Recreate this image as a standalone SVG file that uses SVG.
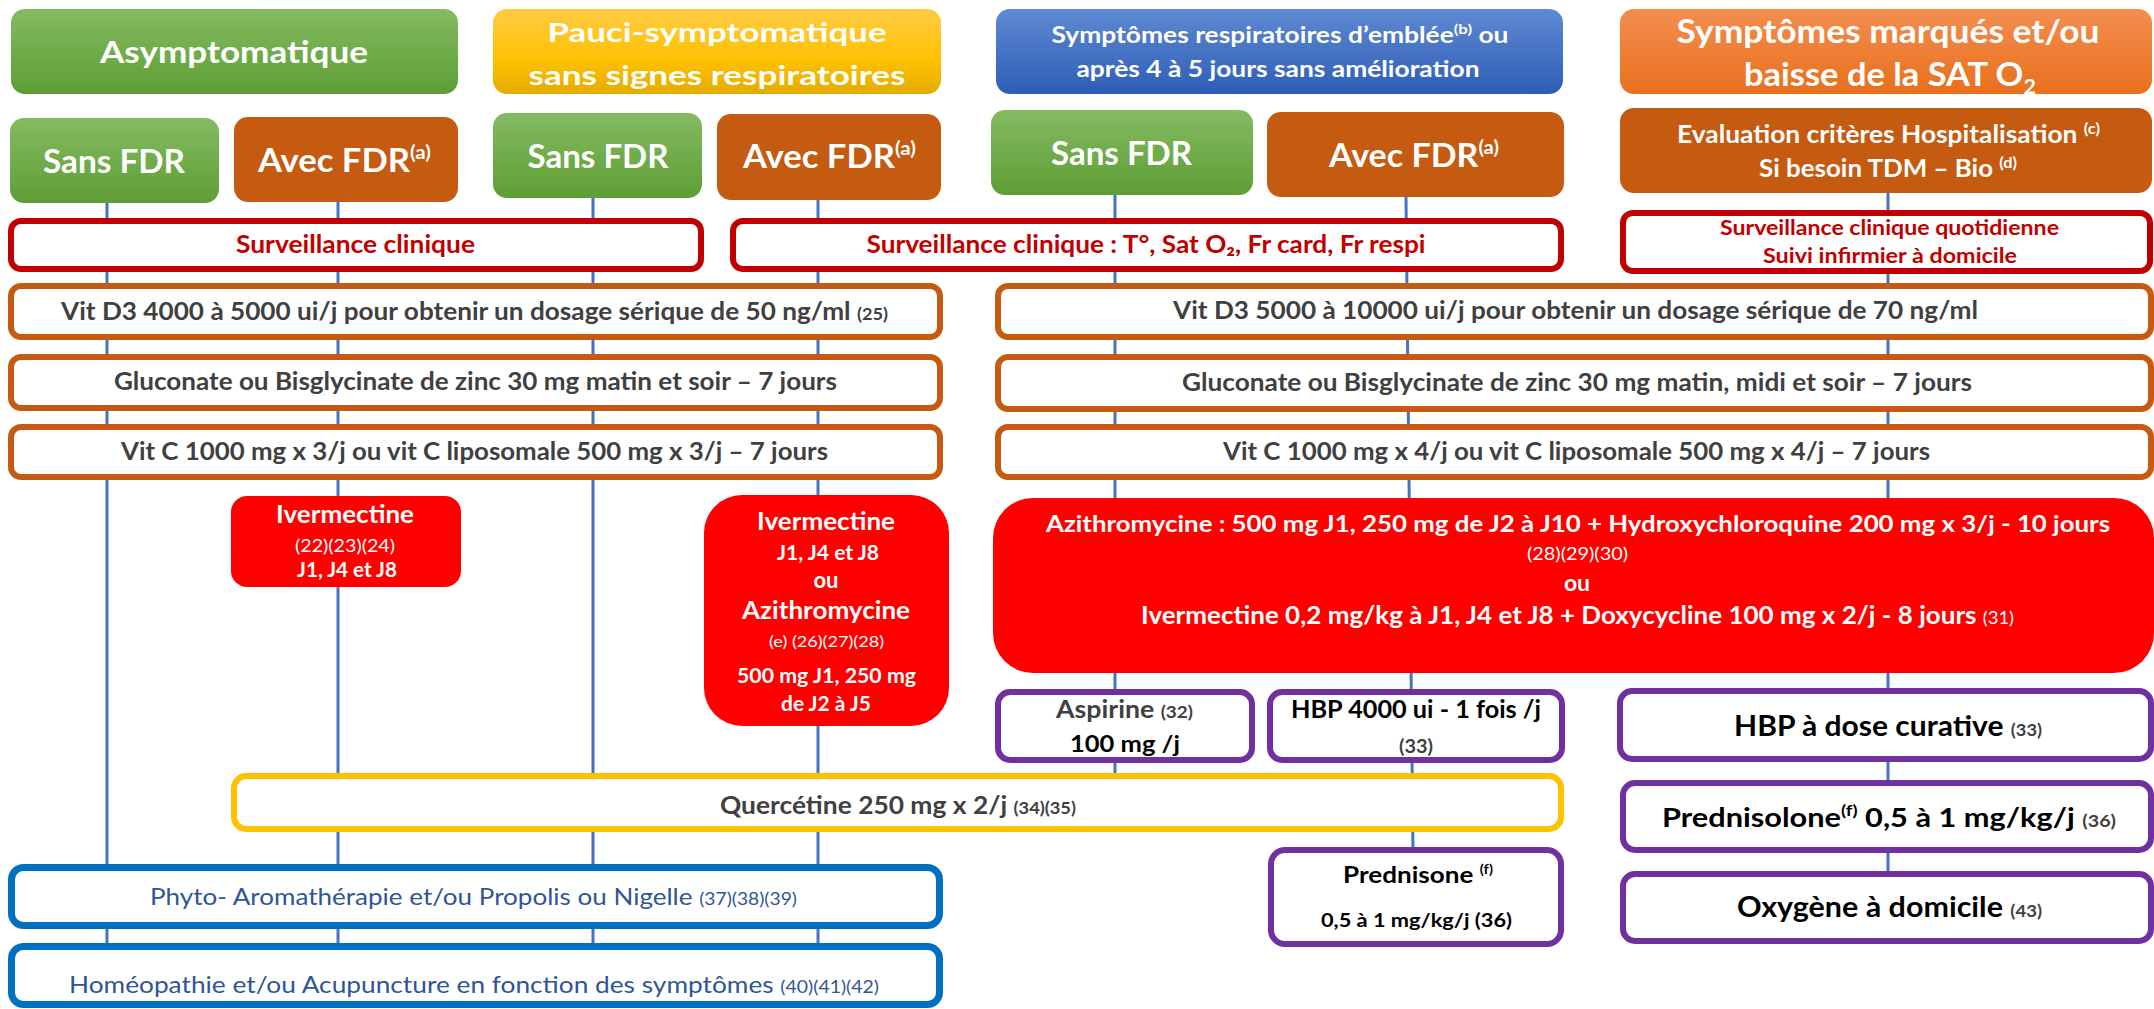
<svg xmlns="http://www.w3.org/2000/svg" width="2154" height="1009" viewBox="0 0 2154 1009">
<defs>
<linearGradient id="gGreen" x1="0" y1="0" x2="0" y2="1"><stop offset="0" stop-color="#84BB62"/><stop offset="1" stop-color="#5E9E35"/></linearGradient>
<linearGradient id="gGold" x1="0" y1="0" x2="0" y2="1"><stop offset="0" stop-color="#FFCB45"/><stop offset="0.6" stop-color="#FFC000"/><stop offset="1" stop-color="#E2AC00"/></linearGradient>
<linearGradient id="gBlue" x1="0" y1="0" x2="0" y2="1"><stop offset="0" stop-color="#5F89D2"/><stop offset="1" stop-color="#2E5DB6"/></linearGradient>
<linearGradient id="gOrange" x1="0" y1="0" x2="0" y2="1"><stop offset="0" stop-color="#F38E50"/><stop offset="1" stop-color="#E8701C"/></linearGradient>
<style>
text{font-family:Lato,"Liberation Sans",sans-serif;text-anchor:middle}
.w{fill:#FFFFFF;font-weight:700}
.wr{fill:#FFFFFF;font-weight:400}
.g{fill:#404040;font-weight:700}
.k{fill:#000000;font-weight:700}
.r{fill:#C00000;font-weight:700}
.b{fill:#2F5597;font-weight:400}
.ref{font-size:17px}
.conn{stroke:#4472C4;stroke-width:3;fill:none}
.fdr{fill:#C55A11}
.svb{fill:#FFFFFF;stroke:#C00000;stroke-width:6}
.orb{fill:#FFFFFF;stroke:#C55A11;stroke-width:6}
.pur{fill:#FFFFFF;stroke:#7030A0;stroke-width:6}
.gol{fill:#FFFFFF;stroke:#FFC000;stroke-width:6}
.blu{fill:#FFFFFF;stroke:#0070C0;stroke-width:7}
.red{fill:#FF0000}
</style>
</defs>
<rect width="2154" height="1009" fill="#FFFFFF"/>
<g id="connectors">
<line class="conn" x1="107" y1="203" x2="107" y2="946"/>
<line class="conn" x1="338" y1="202" x2="338" y2="946"/>
<line class="conn" x1="593" y1="198" x2="593" y2="946"/>
<line class="conn" x1="818" y1="200" x2="818" y2="946"/>
<line class="conn" x1="1115" y1="195" x2="1115" y2="776"/>
<line class="conn" x1="1406" y1="197" x2="1413" y2="850"/>
<line class="conn" x1="1888" y1="193" x2="1888" y2="874"/>
</g>
<g id="h-asympto">
<rect x="11" y="9" width="447" height="85" rx="14" fill="url(#gGreen)"/>
<text class="w" x="234" y="63" font-size="31" textLength="268" lengthAdjust="spacingAndGlyphs">Asymptomatique</text>
</g>
<g id="h-pauci">
<rect x="493" y="9" width="448" height="85" rx="14" fill="url(#gGold)"/>
<text class="w" x="717" y="42" font-size="27" textLength="339" lengthAdjust="spacingAndGlyphs">Pauci-symptomatique</text>
<text class="w" x="717" y="85" font-size="27" textLength="377" lengthAdjust="spacingAndGlyphs">sans signes respiratoires</text>
</g>
<g id="h-respi">
<rect x="996" y="9" width="567" height="85" rx="14" fill="url(#gBlue)"/>
<text class="w" x="1280" y="43" font-size="22" textLength="457" lengthAdjust="spacingAndGlyphs">Symptômes respiratoires d’emblée<tspan dy="-9" font-size="14">(b)</tspan><tspan dy="9"> ou</tspan></text>
<text class="w" x="1278" y="77" font-size="22" textLength="403" lengthAdjust="spacingAndGlyphs">après 4 à 5 jours sans amélioration</text>
</g>
<g id="h-marques">
<rect x="1620" y="9" width="532" height="85" rx="14" fill="url(#gOrange)"/>
<text class="w" x="1888" y="43" font-size="32" textLength="423" lengthAdjust="spacingAndGlyphs">Symptômes marqués et/ou</text>
<text class="w" x="1890" y="86" font-size="32" textLength="292" lengthAdjust="spacingAndGlyphs">baisse de la SAT O<tspan dy="8" font-size="20">2</tspan></text>
</g>
<g id="sans1">
<rect x="10" y="118" width="209" height="85" rx="14" fill="url(#gGreen)"/>
<text class="w" x="114" y="173" font-size="32" textLength="142" lengthAdjust="spacingAndGlyphs">Sans FDR</text>
</g>
<g id="avec1">
<rect class="fdr" x="234" y="117" width="224" height="85" rx="14"/>
<text class="w" x="344.5" y="172" font-size="32" textLength="173" lengthAdjust="spacingAndGlyphs">Avec FDR<tspan dy="-13" font-size="19">(a)</tspan></text>
</g>
<g id="sans2">
<rect x="493" y="113" width="209" height="85" rx="14" fill="url(#gGreen)"/>
<text class="w" x="598" y="168" font-size="32" textLength="141" lengthAdjust="spacingAndGlyphs">Sans FDR</text>
</g>
<g id="avec2">
<rect class="fdr" x="717" y="114" width="224" height="86" rx="14"/>
<text class="w" x="829.5" y="168" font-size="32" textLength="173" lengthAdjust="spacingAndGlyphs">Avec FDR<tspan dy="-13" font-size="19">(a)</tspan></text>
</g>
<g id="sans3">
<rect x="991" y="110" width="262" height="85" rx="14" fill="url(#gGreen)"/>
<text class="w" x="1121.5" y="165" font-size="32" textLength="141" lengthAdjust="spacingAndGlyphs">Sans FDR</text>
</g>
<g id="avec3">
<rect class="fdr" x="1267" y="112" width="297" height="85" rx="14"/>
<text class="w" x="1414" y="167" font-size="32" textLength="170" lengthAdjust="spacingAndGlyphs">Avec FDR<tspan dy="-13" font-size="19">(a)</tspan></text>
</g>
<g id="evaluation">
<rect class="fdr" x="1620" y="108" width="532" height="85" rx="14"/>
<text class="w" x="1888.5" y="143" font-size="24" textLength="423" lengthAdjust="spacingAndGlyphs">Evaluation critères Hospitalisation <tspan dy="-9" font-size="15">(c)</tspan></text>
<text class="w" x="1888" y="177" font-size="24" textLength="258" lengthAdjust="spacingAndGlyphs">Si besoin TDM – Bio <tspan dy="-9" font-size="15">(d)</tspan></text>
</g>
<g id="surv1">
<rect class="svb" x="11" y="221" width="690" height="48" rx="10"/>
<text class="r" x="355.5" y="253" font-size="24" textLength="239" lengthAdjust="spacingAndGlyphs">Surveillance clinique</text>
</g>
<g id="surv2">
<rect class="svb" x="733" y="221" width="828" height="48" rx="10"/>
<text class="r" x="1146" y="253" font-size="24" textLength="559" lengthAdjust="spacingAndGlyphs">Surveillance clinique : T°, Sat O₂, Fr card, Fr respi</text>
</g>
<g id="surv3">
<rect class="svb" x="1623" y="213" width="527" height="58" rx="10"/>
<text class="r" x="1889.5" y="235" font-size="20" textLength="339" lengthAdjust="spacingAndGlyphs">Surveillance clinique quotidienne</text>
<text class="r" x="1890" y="263" font-size="20" textLength="254" lengthAdjust="spacingAndGlyphs">Suivi infirmier à domicile</text>
</g>
<g id="vitd3-l">
<rect class="orb" x="11" y="286" width="929" height="51" rx="10"/>
<text class="g" x="474.5" y="320" font-size="24.5" textLength="827" lengthAdjust="spacingAndGlyphs">Vit D3 4000 à 5000 ui/j pour obtenir un dosage sérique de 50 ng/ml <tspan class="ref">(25)</tspan></text>
</g>
<g id="zinc-l">
<rect class="orb" x="11" y="357" width="929" height="51" rx="10"/>
<text class="g" x="475.5" y="390" font-size="24.5" textLength="723" lengthAdjust="spacingAndGlyphs">Gluconate ou Bisglycinate de zinc 30 mg matin et soir – 7 jours</text>
</g>
<g id="vitc-l">
<rect class="orb" x="11" y="427" width="929" height="50" rx="10"/>
<text class="g" x="474.5" y="460" font-size="24.5" textLength="707" lengthAdjust="spacingAndGlyphs">Vit C 1000 mg x 3/j ou vit C liposomale 500 mg x 3/j – 7 jours</text>
</g>
<g id="vitd3-r">
<rect class="orb" x="998" y="286" width="1153" height="51" rx="10"/>
<text class="g" x="1575.5" y="319" font-size="24.5" textLength="805" lengthAdjust="spacingAndGlyphs">Vit D3 5000 à 10000 ui/j pour obtenir un dosage sérique de 70 ng/ml</text>
</g>
<g id="zinc-r">
<rect class="orb" x="998" y="357" width="1153" height="52" rx="10"/>
<text class="g" x="1577" y="391" font-size="24.5" textLength="790" lengthAdjust="spacingAndGlyphs">Gluconate ou Bisglycinate de zinc 30 mg matin, midi et soir – 7 jours</text>
</g>
<g id="vitc-r">
<rect class="orb" x="998" y="427" width="1153" height="50" rx="10"/>
<text class="g" x="1576.5" y="460" font-size="24.5" textLength="707" lengthAdjust="spacingAndGlyphs">Vit C 1000 mg x 4/j ou vit C liposomale 500 mg x 4/j – 7 jours</text>
</g>
<g id="iver1">
<rect class="red" x="231" y="496" width="230" height="91" rx="16"/>
<text class="w" x="345" y="523" font-size="24" textLength="138" lengthAdjust="spacingAndGlyphs">Ivermectine</text>
<text class="wr" x="345" y="552" font-size="17" textLength="100" lengthAdjust="spacingAndGlyphs">(22)(23)(24)</text>
<text class="w" x="347" y="577" font-size="21" textLength="100" lengthAdjust="spacingAndGlyphs">J1, J4 et J8</text>
</g>
<g id="iver2">
<rect class="red" x="704" y="495" width="245" height="231" rx="38"/>
<text class="w" x="826" y="530" font-size="24" textLength="138" lengthAdjust="spacingAndGlyphs">Ivermectine</text>
<text class="w" x="828" y="560" font-size="21" textLength="102" lengthAdjust="spacingAndGlyphs">J1, J4 et J8</text>
<text class="w" x="826" y="588" font-size="22">ou</text>
<text class="w" x="826" y="619" font-size="25" textLength="168" lengthAdjust="spacingAndGlyphs">Azithromycine</text>
<text class="wr" x="826.5" y="647" font-size="16" textLength="115" lengthAdjust="spacingAndGlyphs">(e) (26)(27)(28)</text>
<text class="w" x="826.5" y="683" font-size="21" textLength="179" lengthAdjust="spacingAndGlyphs">500 mg J1, 250 mg</text>
<text class="w" x="826" y="711" font-size="21" textLength="90" lengthAdjust="spacingAndGlyphs">de J2 à J5</text>
</g>
<g id="azithro-hcq">
<rect class="red" x="993" y="498" width="1161" height="175" rx="40"/>
<text class="w" x="1578" y="532" font-size="23" textLength="1064" lengthAdjust="spacingAndGlyphs">Azithromycine : 500 mg J1, 250 mg de J2 à J10 + Hydroxychloroquine 200 mg x 3/j - 10 jours</text>
<text class="wr" x="1577.5" y="560" font-size="17" textLength="101" lengthAdjust="spacingAndGlyphs">(28)(29)(30)</text>
<text class="w" x="1577" y="591" font-size="23">ou</text>
<text class="w" x="1577.5" y="624" font-size="24" textLength="873" lengthAdjust="spacingAndGlyphs">Ivermectine 0,2 mg/kg à J1, J4 et J8 +  Doxycycline 100 mg x 2/j - 8 jours <tspan class="wr" font-size="17">(31)</tspan></text>
</g>
<g id="aspirine">
<rect class="pur" x="998" y="692" width="254" height="68" rx="12"/>
<text class="g" x="1124.5" y="718" font-size="24" textLength="137" lengthAdjust="spacingAndGlyphs">Aspirine <tspan class="ref">(32)</tspan></text>
<text class="k" x="1125" y="752" font-size="23" textLength="110" lengthAdjust="spacingAndGlyphs">100 mg /j</text>
</g>
<g id="hbp4000">
<rect class="pur" x="1270" y="692" width="292" height="68" rx="12"/>
<text class="k" x="1416" y="718" font-size="24" textLength="250" lengthAdjust="spacingAndGlyphs">HBP 4000 ui - 1 fois /j</text>
<text class="g" x="1416" y="753" font-size="18" textLength="34" lengthAdjust="spacingAndGlyphs">(33)</text>
</g>
<g id="hbp-curative">
<rect class="pur" x="1620" y="691" width="531" height="68" rx="12"/>
<text class="k" x="1888" y="736" font-size="28" textLength="308" lengthAdjust="spacingAndGlyphs">HBP à dose curative <tspan class="g ref">(33)</tspan></text>
</g>
<g id="quercetine">
<rect class="gol" x="234" y="776" width="1327" height="53" rx="12"/>
<text class="g" x="898" y="814" font-size="24.5" textLength="356" lengthAdjust="spacingAndGlyphs">Quercétine 250 mg x 2/j <tspan class="ref">(34)(35)</tspan></text>
</g>
<g id="prednisolone">
<rect class="pur" x="1623" y="783" width="528" height="67" rx="12"/>
<text class="k" x="1889" y="827" font-size="26.5" textLength="454" lengthAdjust="spacingAndGlyphs">Prednisolone<tspan dy="-11" font-size="16">(f)</tspan><tspan dy="11"> 0,5 à 1 mg/kg/j </tspan><tspan class="g ref">(36)</tspan></text>
</g>
<g id="oxygene">
<rect class="pur" x="1623" y="874" width="528" height="67" rx="12"/>
<text class="k" x="1889.5" y="917" font-size="28" textLength="305" lengthAdjust="spacingAndGlyphs">Oxygène à domicile <tspan class="g ref">(43)</tspan></text>
</g>
<g id="prednisone">
<rect class="pur" x="1271" y="850" width="290" height="94" rx="14"/>
<text class="k" x="1418" y="883" font-size="23" textLength="150" lengthAdjust="spacingAndGlyphs">Prednisone <tspan dy="-9" font-size="13">(f)</tspan></text>
<text class="k" x="1416.5" y="927" font-size="18.5" textLength="191" lengthAdjust="spacingAndGlyphs">0,5 à 1 mg/kg/j  (36)</text>
</g>
<g id="phyto">
<rect class="blu" x="11.5" y="867.5" width="928" height="58" rx="12"/>
<text class="b" x="473.5" y="905" font-size="23" textLength="647" lengthAdjust="spacingAndGlyphs">Phyto- Aromathérapie et/ou Propolis ou Nigelle <tspan class="ref">(37)(38)(39)</tspan></text>
</g>
<g id="homeo">
<rect class="blu" x="11.5" y="946.5" width="928" height="58" rx="12"/>
<text class="b" x="474" y="993" font-size="23" textLength="810" lengthAdjust="spacingAndGlyphs">Homéopathie et/ou Acupuncture en fonction des symptômes  <tspan class="ref">(40)(41)(42)</tspan></text>
</g>
</svg>
